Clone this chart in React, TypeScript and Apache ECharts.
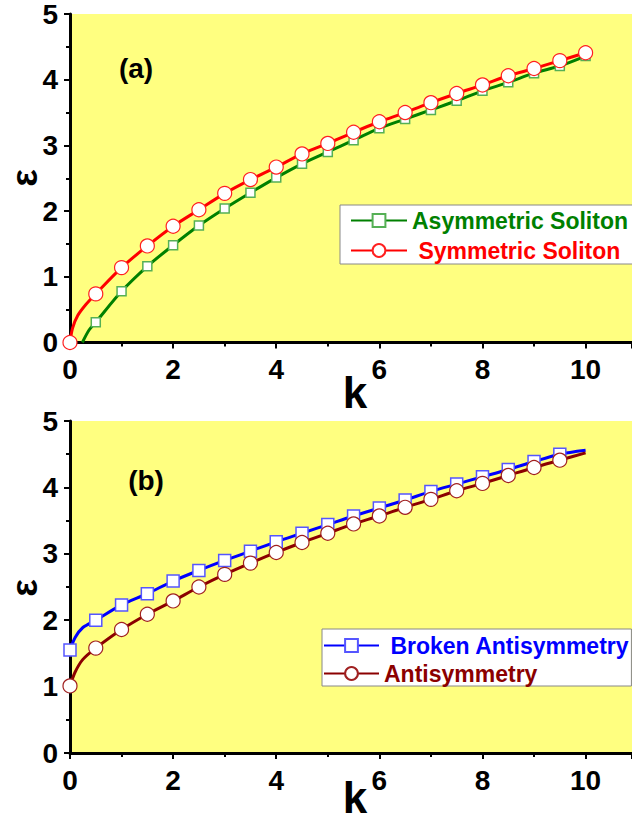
import React, { useEffect, useRef } from "react";
import * as echarts from "echarts";

const FONT = "'Liberation Sans', Arial, sans-serif";

// Panel (a)
const asymK = [0.24, 0.37, 0.5, 1, 1.5, 2, 2.5, 3, 3.5, 4, 4.5, 5, 5.5, 6, 6.5, 7, 7.5, 8, 8.5, 9, 9.5, 10];
const asymE = [0, 0.19, 0.31, 0.78, 1.16, 1.48, 1.78, 2.04, 2.28, 2.51, 2.72, 2.9, 3.08, 3.26, 3.4, 3.54, 3.68, 3.83, 3.96, 4.1, 4.21, 4.36];
const symK = [0, 0.05, 0.15, 0.3, 0.5, 1, 1.5, 2, 2.5, 3, 3.5, 4, 4.5, 5, 5.5, 6, 6.5, 7, 7.5, 8, 8.5, 9, 9.5, 10];
const symE = [0, 0.22, 0.41, 0.57, 0.74, 1.14, 1.47, 1.77, 2.02, 2.27, 2.48, 2.67, 2.87, 3.03, 3.2, 3.36, 3.5, 3.65, 3.79, 3.92, 4.06, 4.17, 4.29, 4.41];

// Panel (b)
const brokenK = [0, 0.1, 0.25, 0.5, 1, 1.5, 2, 2.5, 3, 3.5, 4, 4.5, 5, 5.5, 6, 6.5, 7, 7.5, 8, 8.5, 9, 9.5, 10];
const brokenE = [1.55, 1.74, 1.89, 2.0, 2.23, 2.4, 2.59, 2.75, 2.9, 3.04, 3.18, 3.31, 3.44, 3.57, 3.69, 3.81, 3.94, 4.05, 4.16, 4.27, 4.39, 4.5, 4.56];
const antiK = [0, 0.1, 0.25, 0.5, 1, 1.5, 2, 2.5, 3, 3.5, 4, 4.5, 5, 5.5, 6, 6.5, 7, 7.5, 8, 8.5, 9, 9.5, 10];
const antiE = [1.01, 1.22, 1.41, 1.58, 1.86, 2.09, 2.29, 2.5, 2.69, 2.86, 3.02, 3.17, 3.31, 3.45, 3.57, 3.7, 3.82, 3.95, 4.06, 4.18, 4.3, 4.41, 4.52];

const seriesNames = ["Asymmetric Soliton", "Symmetric Soliton", "Broken Antisymmetry", "Antisymmetry"];
const xTicks = [0, 2, 4, 6, 8, 10];
const yTicks = [0, 1, 2, 3, 4, 5];

function buildData(ks: number[], es: number[], markerMax: number) {
  return ks.map((k, i) => {
    const on = Number.isInteger(k * 2) && k <= markerMax;
    return on ? { value: [k, es[i]] } : { value: [k, es[i]], symbol: "none" };
  });
}

function makeX(gridIndex: number) {
  return {
    type: "value",
    gridIndex,
    min: 0,
    max: 10.9,
    interval: 2,
    axisLine: { show: true, onZero: false, lineStyle: { color: "#000", width: 3 } },
    axisTick: { show: true, length: 6, lineStyle: { color: "#000", width: 2 } },
    minorTick: { show: true, splitNumber: 2, length: 4, lineStyle: { color: "#000", width: 2 } },
    axisLabel: {
      margin: 13,
      showMaxLabel: false,
      color: "#000",
      fontSize: 28,
      fontWeight: "bold",
      fontFamily: FONT,
      formatter: (v: number) => (xTicks.includes(v) ? String(v) : ""),
    },
    splitLine: { show: false },
  };
}

function makeY(gridIndex: number) {
  return {
    type: "value",
    gridIndex,
    min: 0,
    max: 5,
    interval: 1,
    axisLine: { show: true, onZero: false, lineStyle: { color: "#000", width: 3 } },
    axisTick: { show: true, length: 6, lineStyle: { color: "#000", width: 2 } },
    minorTick: { show: true, splitNumber: 2, length: 4, lineStyle: { color: "#000", width: 2 } },
    axisLabel: {
      margin: 12,
      color: "#000",
      fontSize: 28,
      fontWeight: "bold",
      fontFamily: FONT,
      formatter: (v: number) => (yTicks.includes(v) ? String(v) : ""),
    },
    splitLine: { show: false },
  };
}

export default function App() {
  const ref = useRef<HTMLDivElement>(null);
  useEffect(() => {
    if (!ref.current) return;
    const chart = echarts.init(ref.current, undefined, { renderer: "svg" });
    const option: any = {
      animation: false,
      backgroundColor: "#fff",
      grid: [
        { left: 70, top: 10, right: 0, height: 332.5, show: true, backgroundColor: "#ffff80", borderWidth: 0 },
        { left: 70, top: 421, right: 0, height: 332, show: true, backgroundColor: "#ffff80", borderWidth: 0 },
      ],
      xAxis: [makeX(0), makeX(1)],
      yAxis: [makeY(0), makeY(1)],
      legend: [
        {
          orient: "vertical",
          left: 340,
          top: 205,
          itemWidth: 56,
          itemHeight: 16,
          itemGap: 7,
          padding: [4, 6, 2, 10],
          backgroundColor: "#fff",
          borderColor: "#888",
          borderWidth: 1,
          borderRadius: 0,
          textStyle: { fontSize: 23, fontWeight: "bold", fontFamily: FONT },
          formatter: (n: string) => (n === "Symmetric Soliton" ? " " + n : n),
          data: [
            { name: seriesNames[0], textStyle: { color: "#008000" } },
            { name: seriesNames[1], textStyle: { color: "#ff0000" } },
          ],
        },
        {
          orient: "vertical",
          left: 322,
          top: 629,
          itemWidth: 55,
          itemHeight: 16,
          itemGap: 5,
          padding: [5, 2, 1, 1],
          backgroundColor: "#fff",
          borderColor: "#888",
          borderWidth: 1,
          borderRadius: 0,
          textStyle: { fontSize: 23, fontWeight: "bold", fontFamily: FONT },
          formatter: (n: string) => (n === "Broken Antisymmetry" ? " " + n : n),
          data: [
            { name: seriesNames[2], textStyle: { color: "#0000ff" } },
            { name: seriesNames[3], textStyle: { color: "#8b0000" } },
          ],
        },
      ],
      graphic: [
        { type: "text", x: 136, y: 68, style: { text: "(a)", fill: "#000", font: `bold 28px ${FONT}`, align: "center", verticalAlign: "middle" } },
        { type: "text", x: 146, y: 480, style: { text: "(b)", fill: "#000", font: `bold 28px ${FONT}`, align: "center", verticalAlign: "middle" } },
        { type: "text", x: 355, y: 392, style: { text: "k", fill: "#000", font: `bold 44px ${FONT}`, align: "center", verticalAlign: "middle" } },
        { type: "text", x: 355, y: 797, style: { text: "k", fill: "#000", font: `bold 44px ${FONT}`, align: "center", verticalAlign: "middle" } },
        { type: "text", x: 24, y: 178, rotation: Math.PI / 2, style: { text: "ε", fill: "#000", font: `bold 37px ${FONT}`, align: "center", verticalAlign: "middle" } },
        { type: "text", x: 24, y: 588, rotation: Math.PI / 2, style: { text: "ε", fill: "#000", font: `bold 37px ${FONT}`, align: "center", verticalAlign: "middle" } },
      ],
      series: [
        {
          type: "line",
          name: seriesNames[0],
          xAxisIndex: 0,
          yAxisIndex: 0,
          data: buildData(asymK, asymE, 10),
          smooth: 0.3,
          symbol: "rect",
          symbolSize: 9,
          showAllSymbol: true,
          lineStyle: { color: "#008000", width: 3 },
          itemStyle: { color: "#fff", borderColor: "#55b055", borderWidth: 1.5 },
          z: 2,
        },
        {
          type: "line",
          name: seriesNames[1],
          xAxisIndex: 0,
          yAxisIndex: 0,
          data: buildData(symK, symE, 10),
          smooth: 0.3,
          symbol: "circle",
          symbolSize: 14,
          showAllSymbol: true,
          lineStyle: { color: "#ff0000", width: 3 },
          itemStyle: { color: "#fff", borderColor: "#ff2020", borderWidth: 1.2 },
          z: 3,
        },
        {
          type: "line",
          name: seriesNames[2],
          xAxisIndex: 1,
          yAxisIndex: 1,
          data: buildData(brokenK, brokenE, 9.5),
          smooth: 0.3,
          symbol: "rect",
          symbolSize: 12,
          showAllSymbol: true,
          lineStyle: { color: "#0000ff", width: 3 },
          itemStyle: { color: "#fff", borderColor: "#5555ff", borderWidth: 1.5 },
          z: 2,
        },
        {
          type: "line",
          name: seriesNames[3],
          xAxisIndex: 1,
          yAxisIndex: 1,
          data: buildData(antiK, antiE, 9.5),
          smooth: 0.3,
          symbol: "circle",
          symbolSize: 14,
          showAllSymbol: true,
          lineStyle: { color: "#8b0000", width: 3 },
          itemStyle: { color: "#fff", borderColor: "#a02020", borderWidth: 1.2 },
          z: 3,
        },
      ],
    };
    chart.setOption(option);
    return () => chart.dispose();
  }, []);
  return <div ref={ref} style={{ position: "absolute", left: 0, top: 0, width: 632, height: 825 }} />;
}
